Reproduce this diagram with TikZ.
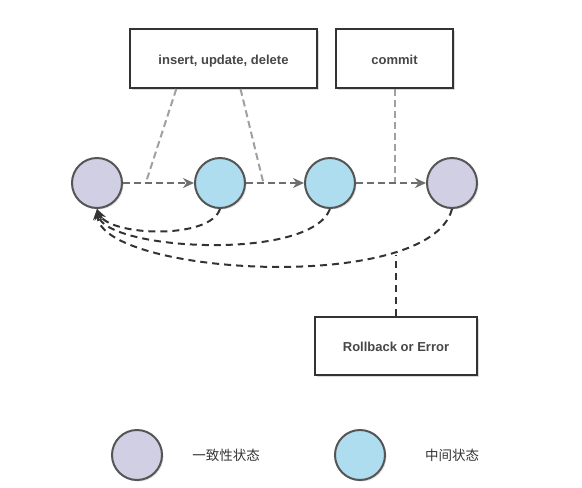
\documentclass[tikz,border=0pt]{standalone}
\usepackage{fontspec}
\setmainfont{Liberation Sans}
\newfontfamily\cjk{Noto Sans CJK SC}
\usetikzlibrary{shadows,calc,arrows.meta}
\definecolor{lav}{HTML}{D1CFE3}
\definecolor{cyanish}{HTML}{AEDDEF}
\definecolor{edge}{HTML}{555555}
\definecolor{txt}{HTML}{333333}
\definecolor{dgray}{HTML}{6E6E6E}
\definecolor{lgray}{HTML}{A0A0A0}
\tikzset{
  st/.style={circle, minimum size=50pt, inner sep=0pt, draw=edge, line width=2pt,
    drop shadow={shadow xshift=1.5pt, shadow yshift=-1.5pt, opacity=0.25}},
  cons/.style={st, fill=lav},
  mid/.style={st, fill=cyanish},
  box/.style={draw=txt, line width=1.8pt, fill=white, font=\bfseries\fontsize{13}{15}\selectfont, text=txt!90,
    text depth=3pt, drop shadow={shadow xshift=2pt, shadow yshift=-2pt, opacity=0.3}},
  fwd/.style={draw=dgray, line width=2pt, dash pattern=on 7pt off 4pt, -{Stealth[length=11pt,width=10pt]}},
  guide/.style={draw=lgray, line width=2pt, dash pattern=on 7pt off 4pt},
  back/.style={draw=txt, line width=2pt, dash pattern=on 7pt off 5pt, -{Stealth[length=11pt,width=9pt]}},
  lbl/.style={text=txt, font=\cjk\fontsize{13.5}{15}\selectfont},
}
\begin{document}
\begin{tikzpicture}[x=1pt,y=-1pt]
\useasboundingbox (0,0) rectangle (582,488);
% boxes
\node[box, text height=15pt, minimum width=187pt, minimum height=59pt] (ins) at (223.5,58.5) {insert, update, delete};
\node[box, text height=15pt, minimum width=117pt, minimum height=59pt] (com) at (394.5,58.5) {commit};
\node[box, text height=13pt, minimum width=162pt, minimum height=58pt] (rb) at (396,346) {Rollback or Error};
% states
\node[cons] (c1) at (97,183) {};
\node[mid] (c2) at (220,183) {};
\node[mid] (c3) at (330,183) {};
\node[cons] (c4) at (452,183) {};
% guides from boxes
\path (c1) -- coordinate[pos=0.32] (j1) (c2);
\path (c2) -- coordinate[pos=0.3] (j2) (c3);
\path (c3) -- coordinate[pos=0.53] (j3) (c4);
\coordinate (i1) at ($(ins.south west)!0.25!(ins.south east)$);
\coordinate (i2) at ($(ins.south west)!0.59!(ins.south east)$);
\draw[guide] (i1) -- (j1);
\draw[guide] (i2) -- (j2);
\draw[guide] (com.south) -- (com.south |- j3);
% forward arrows
\draw[fwd] (c1) -- (c2);
\draw[fwd] (c2) -- (c3);
\draw[fwd] (c3) -- (c4);
% back arrows
\draw[back] (c2.south) .. controls (210,240) and (110,236) .. (c1.south);
\draw[back] (c3.south) .. controls (310,262) and (105,250) .. (c1.south);
\draw[back] (c4.south) .. controls (430,295) and (100,275) .. coordinate[pos=0.25] (rbj) (c1.south);
\draw[back, -] (rb.north) -- (rb.north |- rbj);
% legend
\node[cons] (l1) at (137,455) {};
\node[lbl] (t1) at (226,455) {一致性状态};
\node[mid] (l2) at (360,455) {};
\node[lbl] (t2) at (452,455) {中间状态};
\end{tikzpicture}
\end{document}
